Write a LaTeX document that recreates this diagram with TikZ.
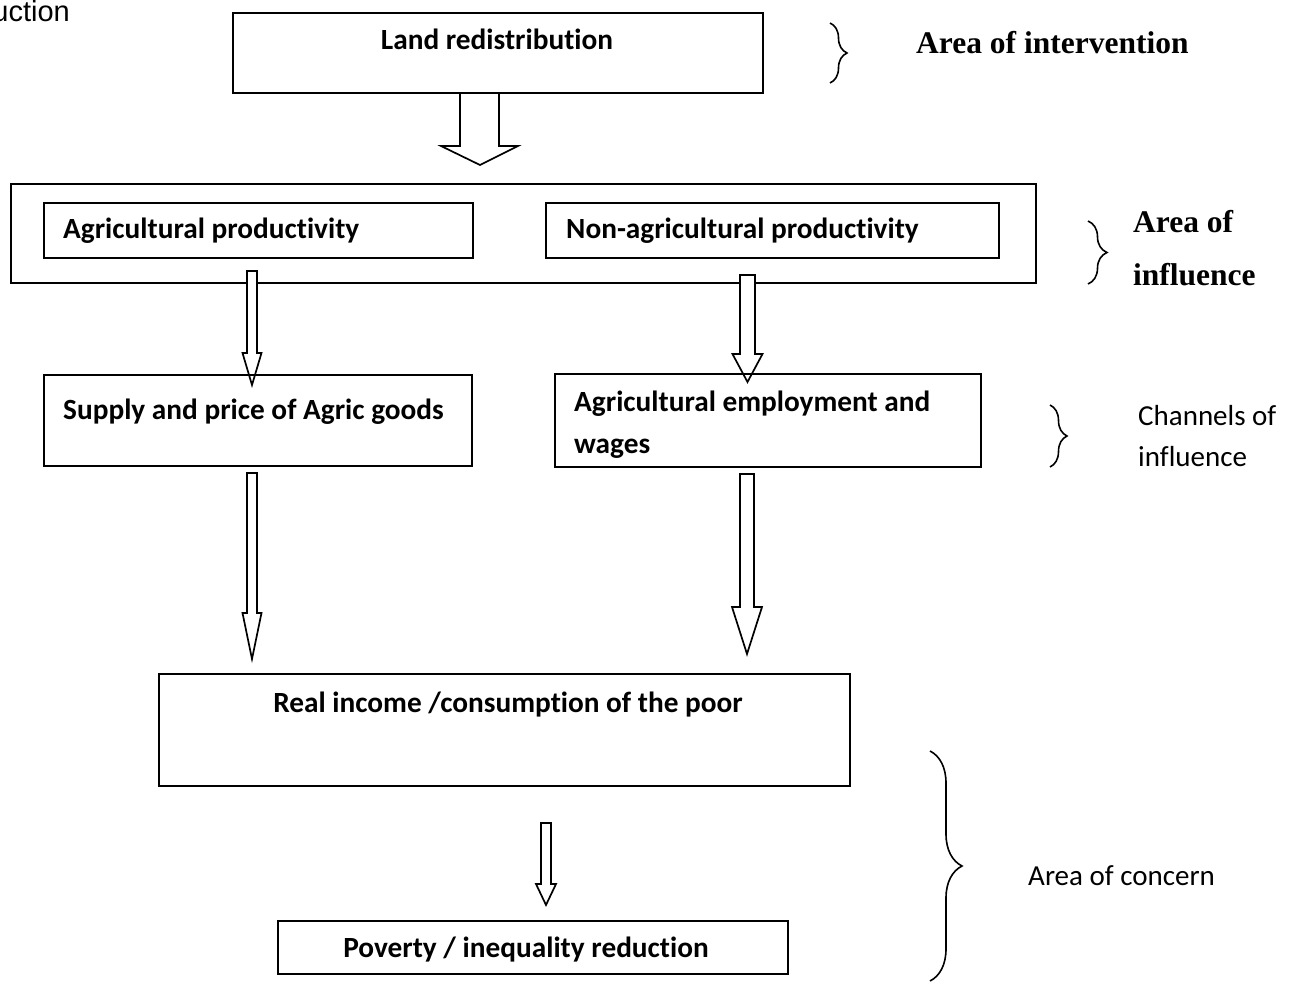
\documentclass[tikz,border=0pt]{standalone}
\usepackage{fontspec}
\usetikzlibrary{calc,decorations.pathreplacing}
\newfontfamily\calfont[Ligatures={NoCommon}]{Carlito}
\newfontfamily\tmsfont{Liberation Serif}
\newfontfamily\arifont{Liberation Sans}
\tikzset{
  boxstyle/.style={draw, line width=1.8pt, inner sep=0pt, anchor=north west},
  barrow/.style={draw, line width=1.7pt, fill=white, line join=miter},
  boldlab/.style={inner sep=0pt, font=\calfont\bfseries\fontsize{29.3}{34}\selectfont},
  reglab/.style={inner sep=0pt, font=\calfont\fontsize{29}{34}\selectfont, align=left},
  tmslab/.style={inner sep=0pt, font=\tmsfont\bfseries\fontsize{31.5}{54}\selectfont, align=left},
  bracestyle/.style={draw, line width=1.6pt, decorate, decoration={brace, amplitude=#1}},
}
\newcommand\blockarr[5]{\draw[barrow] let \p1=(#1), \p2=(#2) in
  (\x1-#3,\y1) -- (\x1-#3,\y2+#5) -- (\x1-#4,\y2+#5) -- (\x2,\y2) --
  (\x1+#4,\y2+#5) -- (\x1+#3,\y2+#5) -- (\x1+#3,\y1) -- cycle;}
\begin{document}
\begin{tikzpicture}[x=1pt,y=-1pt]
\useasboundingbox (0,0) rectangle (1294,982);

% top boxes
\node[boxstyle, minimum width=530pt, minimum height=80pt] (land) at (232,12) {};
\node[boxstyle, minimum width=1025pt, minimum height=99pt] (outer) at (10,183) {};
\node[boxstyle, minimum width=429pt, minimum height=55pt] (agri) at (43,202) {};
\node[boxstyle, minimum width=453pt, minimum height=55pt] (nonagri) at (545,202) {};

% arrow coordinates
\coordinate (a1s) at (479.5,93);  \coordinate (a1e) at (480,165);
\coordinate (a2s) at (252,271);   \coordinate (a2e) at (252,385);
\coordinate (a3s) at (747.5,275); \coordinate (a3e) at (747.5,382);
\coordinate (a4s) at (252,473);   \coordinate (a4e) at (252,659);
\coordinate (a5s) at (747,474);   \coordinate (a5e) at (747,654);
\coordinate (a6s) at (546,823);   \coordinate (a6e) at (546,905);

\blockarr{a1s}{a1e}{19.5pt}{38.5pt}{19pt}
\blockarr{a2s}{a2e}{5pt}{9.5pt}{32pt}
\blockarr{a3s}{a3e}{7.5pt}{15pt}{28pt}
\blockarr{a4s}{a4e}{5pt}{9.5pt}{46pt}
\blockarr{a5s}{a5e}{7pt}{15pt}{47pt}
\blockarr{a6s}{a6e}{5pt}{10pt}{21pt}

% lower boxes
\node[boxstyle, minimum width=428pt, minimum height=91pt] (supply) at (43,374) {};
\node[boxstyle, minimum width=426pt, minimum height=93pt] (employ) at (554,373) {};
\node[boxstyle, minimum width=691pt, minimum height=112pt] (realinc) at (158,673) {};
\node[boxstyle, minimum width=510pt, minimum height=53pt] (poverty) at (277,920) {};

% box labels
\node[boldlab, anchor=base] (tland) at (497,50) {Land redistribution};
\node[boldlab, anchor=base west] (tagri) at (63,238) {Agricultural productivity};
\node[boldlab, anchor=base west] (tnon) at (566,238) {Non-agricultural productivity};
\node[boldlab, anchor=base west] (tsup) at (63,419) {Supply and price of Agric goods};
\node[boldlab, anchor=base west] (temp1) at (574,411) {Agricultural employment and};
\node[boldlab, anchor=base west] (temp2) at (574,453) {wages};
\node[boldlab, anchor=base] (treal) at (508,712) {Real income /consumption of the poor};
\node[boldlab, anchor=base] (tpov) at (526,957) {Poverty / inequality reduction};

% braces
\coordinate (b1t) at (830,23);  \coordinate (b1b) at (830,83);
\coordinate (b2t) at (1088,221); \coordinate (b2b) at (1088,284);
\coordinate (b3t) at (1050,405); \coordinate (b3b) at (1050,467);
\coordinate (b4t) at (930,751);  \coordinate (b4b) at (930,981);
\draw[bracestyle=17pt] (b1t) -- (b1b);
\draw[bracestyle=19pt] (b2t) -- (b2b);
\draw[bracestyle=17pt] (b3t) -- (b3b);
\draw[bracestyle=32pt] (b4t) -- (b4b);

% side labels
\node[tmslab, anchor=base west] (tint) at (916,54) {Area of intervention};
\node[tmslab, anchor=base west] (tinf1) at (1133,232) {Area of};
\node[tmslab, anchor=base west] (tinf2) at (1133,285) {influence};
\node[reglab, anchor=base west] (tch1) at (1138,425) {Channels of};
\node[reglab, anchor=base west] (tch2) at (1138,466) {influence};
\node[reglab, anchor=base west] (tcon) at (1028,885) {Area of concern};
\node[inner sep=0pt, anchor=base east, font=\arifont\fontsize{29}{34}\selectfont] (tuc) at (70,22) {uction};
\end{tikzpicture}
\end{document}
